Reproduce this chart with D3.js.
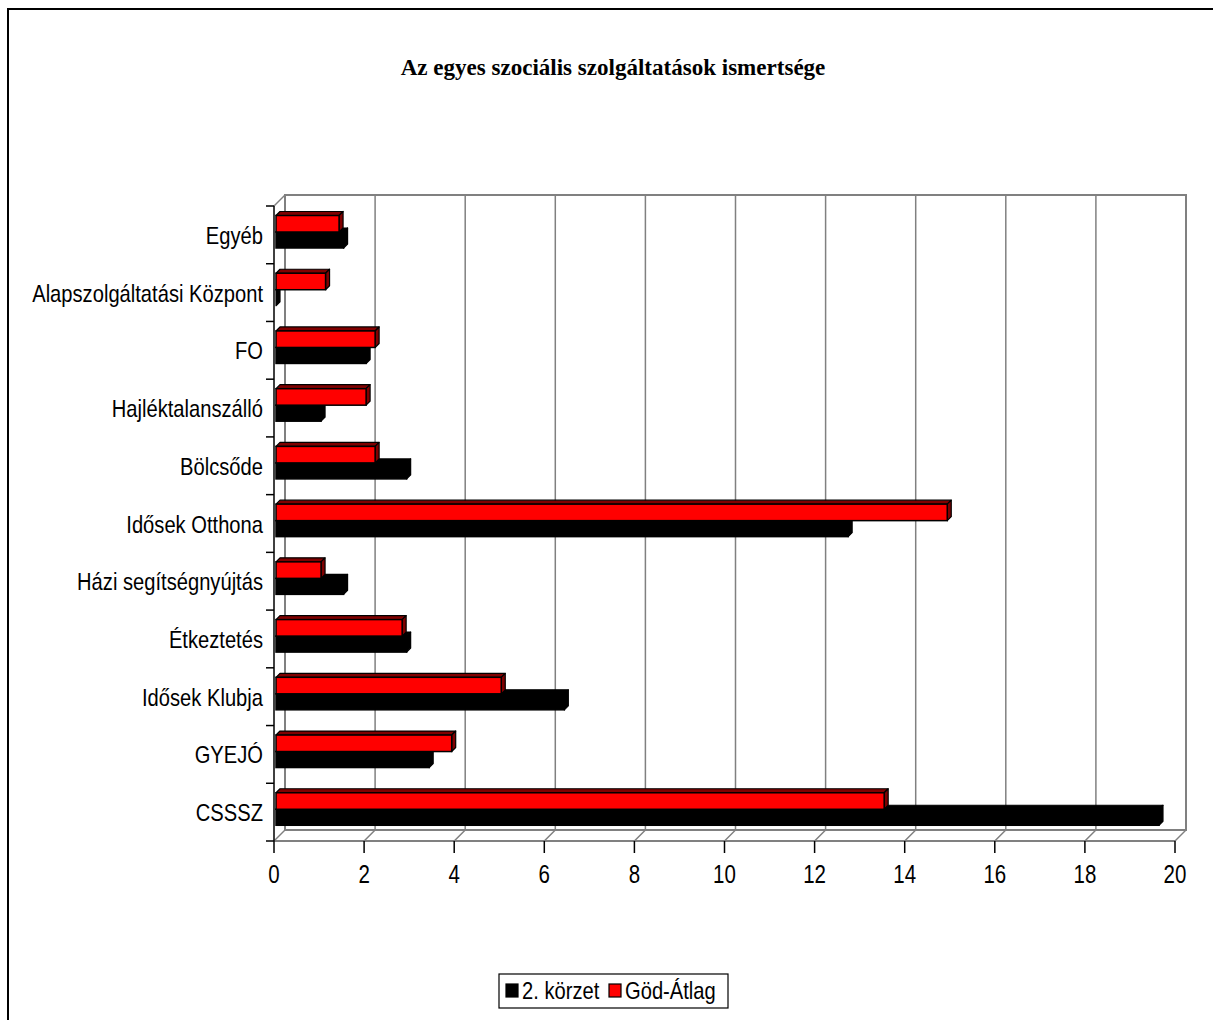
<!DOCTYPE html>
<html><head><meta charset="utf-8">
<script src="https://cdn.jsdelivr.net/npm/d3@7"></script>
<style>
body{margin:0;background:#fff;}
svg{display:block;}
.lbl{font-family:"Liberation Sans",Arial,sans-serif;}
</style></head>
<body><svg id="c" width="1213" height="1020"></svg>
<script>
const categories = ["Egyéb","Alapszolgáltatási Központ","FO","Hajléktalanszálló","Bölcsőde","Idősek Otthona","Házi segítségnyújtás","Étkeztetés","Idősek Klubja","GYEJÓ","CSSSZ"];
const korzet2 = [1.5,0,2.0,1.0,2.9,12.7,1.5,2.9,6.4,3.4,19.6];
const godAtlag = [1.4,1.1,2.2,2.0,2.2,14.9,1.0,2.8,5.0,3.9,13.5];
const xTicks = [0,2,4,6,8,10,12,14,16,18,20];
const seriesNames = ["2. körzet","Göd-Átlag"];
const title = "Az egyes szociális szolgáltatások ismertsége";

const svg = d3.select("#c");
// outer frame
svg.append("rect").attr("x",8).attr("y",9).attr("width",1400).attr("height",1200)
  .attr("fill","none").attr("stroke","#000").attr("stroke-width",2);

svg.append("text").attr("transform","translate(613,75) scale(0.96,1)").attr("text-anchor","middle")
  .attr("font-family","'Liberation Serif','Times New Roman',serif").attr("font-weight","bold")
  .attr("font-size",24).text(title);

const x = d3.scaleLinear().domain([0,20]).range([274,1175]);
const y = d3.scaleBand().domain(categories).range([206,841]);
const D = 11; // wall depth
const grid = "#808080";

// back wall
svg.append("rect").attr("x",x(0)+D).attr("y",206-D).attr("width",x(20)-x(0)).attr("height",841-206)
  .attr("fill","none").attr("stroke",grid).attr("stroke-width",2);
svg.selectAll(".grid").data(xTicks.slice(1,-1)).enter().append("line")
  .attr("x1",d=>x(d)+D).attr("x2",d=>x(d)+D).attr("y1",206-D).attr("y2",841-D)
  .attr("stroke",grid).attr("stroke-width",1.5);
svg.append("line").attr("x1",x(0)).attr("y1",206).attr("x2",x(0)+D).attr("y2",206-D).attr("stroke",grid).attr("stroke-width",1.5);
svg.selectAll(".fd").data(xTicks).enter().append("line")
  .attr("x1",d=>x(d)).attr("y1",841).attr("x2",d=>x(d)+D).attr("y2",841-D)
  .attr("stroke",grid).attr("stroke-width",1.5);
svg.append("line").attr("x1",x(0)).attr("x2",x(20)).attr("y1",841).attr("y2",841).attr("stroke",grid).attr("stroke-width",2);

// bars
const bd = 4, off = 2;
const rows = categories.map((c,i)=>({c,k:korzet2[i],g:godAtlag[i]}));
function bar(g, v, top, h, front, side){
  const x0 = x(0)+off, x1 = x(v)+off;
  g.append("path").attr("d",`M${x0},${top}L${x0+bd},${top-bd}L${x1+bd},${top-bd}L${x1},${top}Z`)
    .attr("fill",side).attr("stroke","#000").attr("stroke-width",1.2).attr("stroke-linejoin","round");
  g.append("path").attr("d",`M${x1},${top}L${x1+bd},${top-bd}L${x1+bd},${top+h-bd}L${x1},${top+h}Z`)
    .attr("fill",side).attr("stroke","#000").attr("stroke-width",1.2).attr("stroke-linejoin","round");
  g.append("rect").attr("x",x0).attr("y",top).attr("width",Math.max(0,x1-x0)).attr("height",h)
    .attr("fill",front).attr("stroke","#000").attr("stroke-width",1.5);
}
const bg = svg.append("g");
rows.forEach(r=>{
  const t = y(r.c);
  const g = bg.append("g");
  bar(g, r.k, t+26, 16, "#000", "#000");
  bar(g, r.g, t+9.5, 16.5, "#FF0000", "#800000");
});

// left axis
svg.append("line").attr("x1",x(0)).attr("x2",x(0)).attr("y1",206).attr("y2",841).attr("stroke","#000").attr("stroke-width",1.5);
const bounds = categories.map(c=>y(c)).concat([841]);
svg.selectAll(".lt").data(bounds).enter().append("line")
  .attr("x1",266).attr("x2",x(0)).attr("y1",d=>d).attr("y2",d=>d).attr("stroke","#000").attr("stroke-width",1.5);
svg.selectAll(".cl").data(categories).enter().append("text").attr("class","lbl")
  .attr("transform",d=>`translate(263,${y(d)+y.bandwidth()/2+9}) scale(0.84,1)`).attr("text-anchor","end")
  .attr("font-size",24).text(d=>d);
// bottom axis
svg.selectAll(".bt").data(xTicks).enter().append("line")
  .attr("x1",d=>x(d)).attr("x2",d=>x(d)).attr("y1",841).attr("y2",853).attr("stroke","#000").attr("stroke-width",1.5);
svg.selectAll(".bl").data(xTicks).enter().append("text").attr("class","lbl")
  .attr("transform",d=>`translate(${x(d)},883) scale(0.82,1)`).attr("text-anchor","middle").attr("font-size",25).text(d=>d);

// legend
const lg = svg.append("g");
lg.append("rect").attr("x",499).attr("y",974).attr("width",229).attr("height",34).attr("fill","#fff").attr("stroke","#000").attr("stroke-width",1.2);
const litems=[{n:seriesNames[0],c:"#000",x:506},{n:seriesNames[1],c:"#FF0000",x:609}];
litems.forEach(it=>{
  lg.append("rect").attr("x",it.x).attr("y",984).attr("width",12).attr("height",13).attr("fill",it.c).attr("stroke","#000").attr("stroke-width",1.2);
  lg.append("text").attr("class","lbl").attr("transform",`translate(${it.x+16},999) scale(0.84,1)`).attr("font-size",24).text(it.n);
});
</script></body></html>
